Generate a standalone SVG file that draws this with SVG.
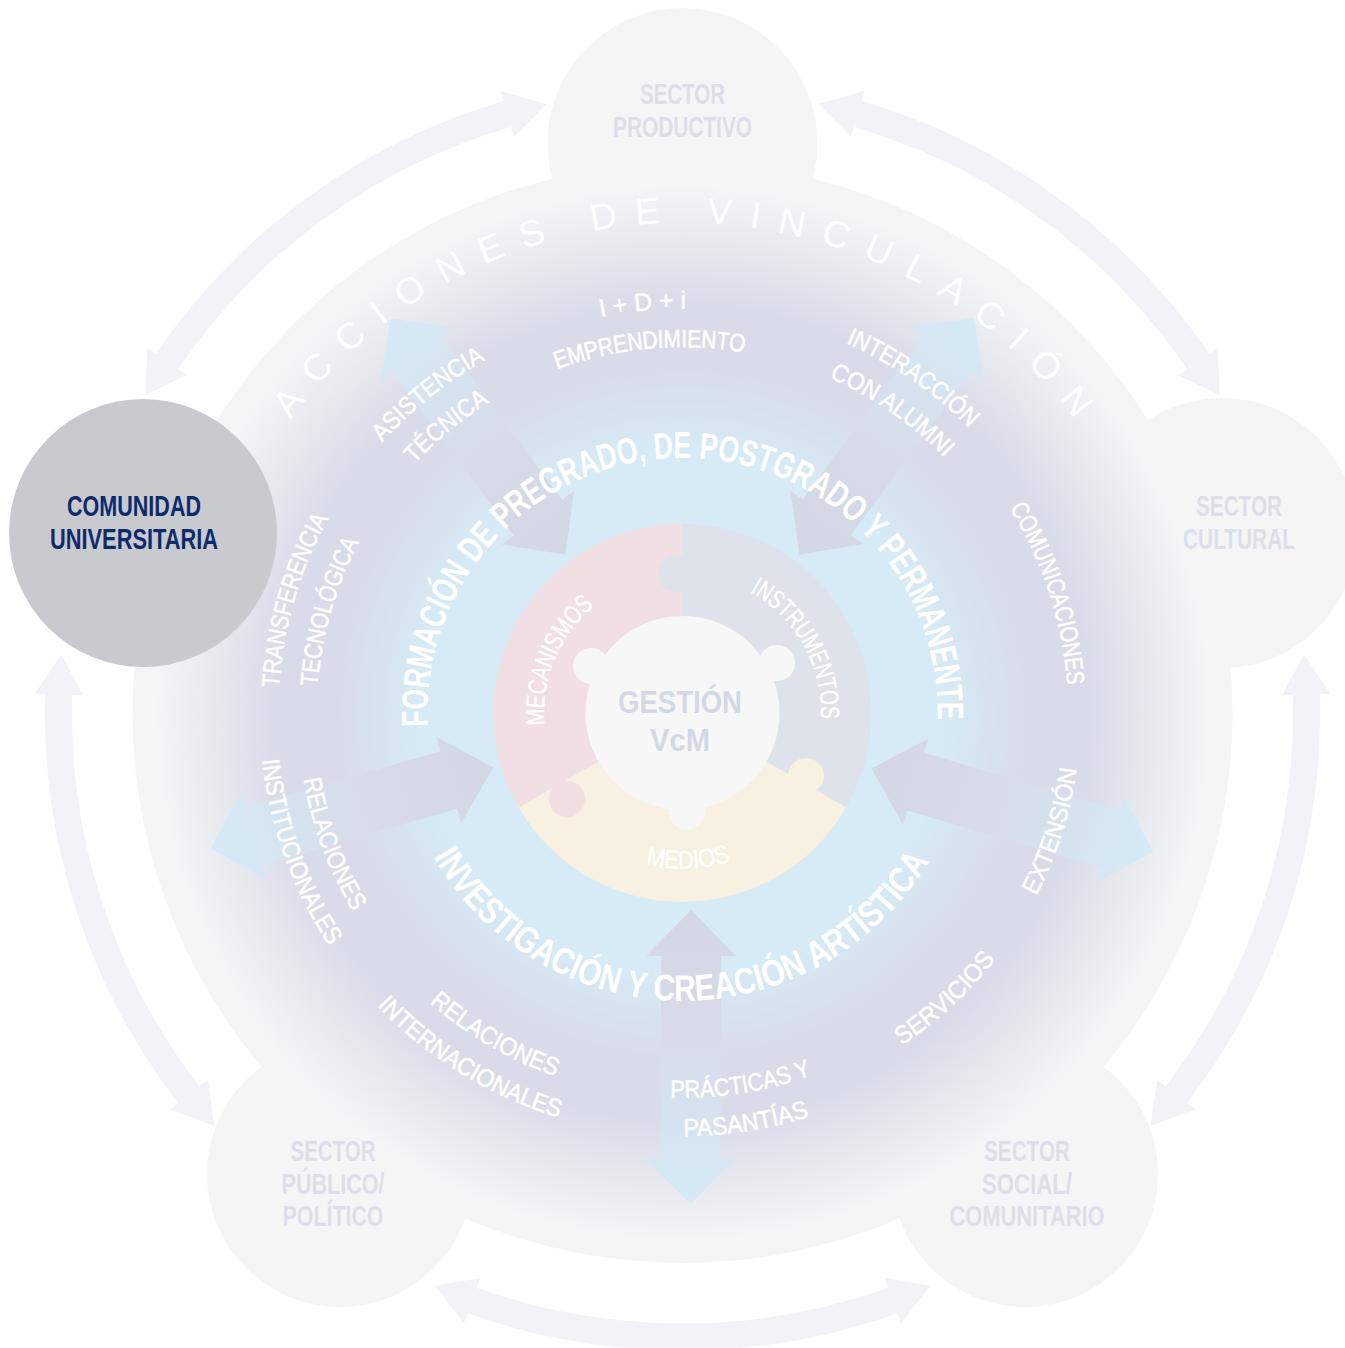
<svg xmlns="http://www.w3.org/2000/svg" width="1345" height="1348" viewBox="0 0 1345 1348">
<defs>
<style>
.f{font-family:'Liberation Sans Narrow','Liberation Sans',Arial,sans-serif}
.lbl{font-size:25px;fill:#ffffff;stroke:#ffffff;stroke-width:0.5}
.ring{font-size:37px;font-weight:bold;fill:#ffffff}
.pz{font-size:26px;fill:#ffffff;stroke:#ffffff;stroke-width:0.4}
.acc{font-size:37px;fill:#ffffff}
.sec{font-size:29px;font-weight:bold;fill:#dcdfea}
.bub{fill:#f5f5f6}
.oarc{fill:none;stroke:#f2f3f6;stroke-width:27}
.ohead{fill:#f2f3f6}
.gv{font-size:32px;font-weight:bold;fill:#d3d8e6}
</style>
<radialGradient id="lavG" cx="682.5" cy="713" r="550" gradientUnits="userSpaceOnUse">
<stop offset="0" stop-color="#d8dce8" stop-opacity="1"/>
<stop offset="0.74" stop-color="#d8dce8" stop-opacity="1"/>
<stop offset="0.96" stop-color="#d8dce8" stop-opacity="0"/>
</radialGradient>
<radialGradient id="blueG" cx="682.5" cy="713" r="345" gradientUnits="userSpaceOnUse">
<stop offset="0" stop-color="#d6ebf6" stop-opacity="1"/>
<stop offset="0.76" stop-color="#d6ebf6" stop-opacity="1"/>
<stop offset="1" stop-color="#d6ebf6" stop-opacity="0"/>
</radialGradient>
<linearGradient id="ag" x1="0" y1="0" x2="1" y2="0">
<stop offset="0" stop-color="#d3d7e4"/>
<stop offset="0.45" stop-color="#d7dce8"/>
<stop offset="1" stop-color="#d5ebf7"/>
</linearGradient>
<polygon id="darrow" points="197,0 243,-45 243,-30 446,-30 446,-45 491,0 446,45 446,30 243,30 243,45" fill="url(#ag)"/>
<g id="oarrow">
<path class="oarc" d="M -210.4,-587.5 A 624 624 0 0 1 210.4,-587.5"/>
<polygon class="ohead" points="-247.8,-572.7 -218.4,-610.1 -202.3,-564.9"/>
<polygon class="ohead" points="247.8,-572.7 218.4,-610.1 202.3,-564.9"/>
</g>
<path id="pto" d="M -397.9,-70.2 A 404 404 0 0 1 397.9,-70.2"/>
<path id="pti" d="M -360.4,-63.6 A 366 366 0 0 1 360.4,-63.6"/>
<path id="ptm" d="M -380.1,-67 A 386 386 0 0 1 380.1,-67"/>
<path id="pbi" d="M -379.1,66.9 A 385 385 0 0 0 379.1,66.9"/>
<path id="pbo" d="M -416.6,73.5 A 423 423 0 0 0 416.6,73.5"/>
<path id="pbm" d="M -392,69.1 A 398 398 0 0 0 392,69.1"/>
<path id="prt" d="M -251.1,44.3 A 255 255 0 1 1 251.1,44.3"/>
<path id="prb" d="M -283.6,50 A 288 288 0 0 0 283.6,50"/>
<path id="pzt" d="M -136.4,-24 A 138.5 138.5 0 0 1 136.4,-24"/>
<path id="pzb" d="M -153.6,27.1 A 156 156 0 0 0 153.6,27.1"/>
<path id="pac" d="M -482.6,-85.1 A 490 490 0 0 1 482.6,-85.1"/>
</defs>

<rect x="0" y="0" width="1345" height="1348" fill="#ffffff"/>

<g id="connectors-outer">
<use href="#oarrow" transform="translate(682.5 713) rotate(-36)"/>
<use href="#oarrow" transform="translate(682.5 713) rotate(36)"/>
<use href="#oarrow" transform="translate(682.5 713) rotate(108)"/>
<use href="#oarrow" transform="translate(682.5 713) rotate(180)"/>
<use href="#oarrow" transform="translate(682.5 713) rotate(252)"/>
</g>

<g id="vinculacion-field">
<circle class="bub" cx="682.5" cy="713" r="550"/>
</g>

<g id="sector-productivo">
<circle class="bub" cx="682.5" cy="143" r="135"/>
<text class="f sec" x="682.5" y="104" text-anchor="middle" textLength="85" lengthAdjust="spacingAndGlyphs">SECTOR</text>
<text class="f sec" x="682.5" y="137" text-anchor="middle" textLength="139" lengthAdjust="spacingAndGlyphs">PRODUCTIVO</text>
</g>
<g id="sector-cultural">
<circle class="bub" cx="1222" cy="533" r="135"/>
<text class="f sec" x="1239" y="516" text-anchor="middle" textLength="86" lengthAdjust="spacingAndGlyphs">SECTOR</text>
<text class="f sec" x="1239" y="549" text-anchor="middle" textLength="112" lengthAdjust="spacingAndGlyphs">CULTURAL</text>
</g>
<g id="sector-social">
<circle class="bub" cx="1025" cy="1174" r="133"/>
<text class="f sec" x="1027" y="1161" text-anchor="middle" textLength="86" lengthAdjust="spacingAndGlyphs">SECTOR</text>
<text class="f sec" x="1027" y="1194" text-anchor="middle" textLength="90" lengthAdjust="spacingAndGlyphs">SOCIAL/</text>
<text class="f sec" x="1027" y="1226" text-anchor="middle" textLength="155" lengthAdjust="spacingAndGlyphs">COMUNITARIO</text>
</g>
<g id="sector-publico">
<circle class="bub" cx="340" cy="1174" r="133"/>
<text class="f sec" x="333" y="1161" text-anchor="middle" textLength="85" lengthAdjust="spacingAndGlyphs">SECTOR</text>
<text class="f sec" x="333" y="1194" text-anchor="middle" textLength="103" lengthAdjust="spacingAndGlyphs">PÚBLICO/</text>
<text class="f sec" x="333" y="1226" text-anchor="middle" textLength="101" lengthAdjust="spacingAndGlyphs">POLÍTICO</text>
</g>

<circle cx="682.5" cy="713" r="550" fill="url(#lavG)"/>
<circle cx="682.5" cy="713" r="345" fill="url(#blueG)"/>

<text class="f acc" transform="translate(682.5 713)" text-anchor="middle"><textPath href="#pac" startOffset="50%" textLength="910" lengthAdjust="spacing">ACCIONES DE VINCULACIÓN</textPath></text>

<g id="connectors-inner">
<use href="#darrow" transform="translate(682.5 713) rotate(-126.5)"/>
<use href="#darrow" transform="translate(682.5 713) rotate(-53.6)"/>
<use href="#darrow" transform="translate(682.5 713) rotate(16.4)"/>
<use href="#darrow" transform="translate(692 713) rotate(90.2)"/>
<use href="#darrow" transform="translate(682.5 713) rotate(164)"/>
</g>

<g id="gestion-vcm">
<path fill="#f2dfe3" d="M682.5,713 L518.8,807.5 A189 189 0 0 1 682.5,524 Z"/>
<path fill="#dee2eb" d="M682.5,713 L682.5,524 A189 189 0 0 1 846.2,807.5 Z"/>
<path fill="#f8f0e0" d="M682.5,713 L846.2,807.5 A189 189 0 0 1 518.8,807.5 Z"/>
<circle cx="676.5" cy="573.5" r="18.5" fill="#dee2eb"/>
<circle cx="567" cy="799" r="18" fill="#f2dfe3"/>
<circle cx="806" cy="776" r="18" fill="#f8f0e0"/>
<circle cx="682.5" cy="713" r="97" fill="#f7f7f8"/>
<circle cx="591" cy="666" r="18" fill="#f7f7f8"/>
<circle cx="777" cy="663" r="18" fill="#f7f7f8"/>
<circle cx="687" cy="812" r="18" fill="#f7f7f8"/>
<text class="f pz" transform="translate(682.5 713) rotate(-67.25)" text-anchor="middle"><textPath href="#pzt" startOffset="50%" textLength="134" lengthAdjust="spacingAndGlyphs">MECANISMOS</textPath></text>
<text class="f pz" transform="translate(682.5 713) rotate(60.7)" text-anchor="middle"><textPath href="#pzt" startOffset="50%" textLength="153" lengthAdjust="spacingAndGlyphs">INSTRUMENTOS</textPath></text>
<text class="f pz" transform="translate(682.5 713) rotate(-2.2)" text-anchor="middle"><textPath href="#pzb" startOffset="50%" textLength="86" lengthAdjust="spacingAndGlyphs">MEDIOS</textPath></text>
<text class="f gv" x="680" y="713" text-anchor="middle" textLength="124" lengthAdjust="spacingAndGlyphs">GESTIÓN</text>
<text class="f gv" x="680" y="751" text-anchor="middle" textLength="60" lengthAdjust="spacingAndGlyphs">VcM</text>
</g>

<g id="ring-texts">
<text class="f ring" transform="translate(682.5 713) rotate(-0.75)" text-anchor="middle"><textPath href="#prt" startOffset="50%" textLength="821" lengthAdjust="spacingAndGlyphs">FORMACIÓN DE PREGRADO, DE POSTGRADO Y PERMANENTE</textPath></text>
<text class="f ring" transform="translate(682.5 713) rotate(0.5)" text-anchor="middle"><textPath href="#prb" startOffset="50%" textLength="598" lengthAdjust="spacingAndGlyphs">INVESTIGACIÓN Y CREACIÓN ARTÍSTICA</textPath></text>
</g>

<g id="acciones-labels">
<text class="f lbl" transform="translate(682.5 713) rotate(-5.6)" text-anchor="middle"><textPath href="#pto" startOffset="50%" textLength="86" lengthAdjust="spacingAndGlyphs">I + D + i</textPath></text>
<text class="f lbl" transform="translate(682.5 713) rotate(-5.2)" text-anchor="middle"><textPath href="#pti" startOffset="50%" textLength="190" lengthAdjust="spacingAndGlyphs">EMPRENDIMIENTO</textPath></text>
<text class="f lbl" transform="translate(682.5 713) rotate(-38.6)" text-anchor="middle"><textPath href="#pto" startOffset="50%" textLength="133" lengthAdjust="spacingAndGlyphs">ASISTENCIA</textPath></text>
<text class="f lbl" transform="translate(682.5 713) rotate(-39.5)" text-anchor="middle"><textPath href="#pti" startOffset="50%" textLength="98" lengthAdjust="spacingAndGlyphs">TÉCNICA</textPath></text>
<text class="f lbl" transform="translate(682.5 713) rotate(34.5)" text-anchor="middle"><textPath href="#pto" startOffset="50%" textLength="151" lengthAdjust="spacingAndGlyphs">INTERACCIÓN</textPath></text>
<text class="f lbl" transform="translate(682.5 713) rotate(34.7)" text-anchor="middle"><textPath href="#pti" startOffset="50%" textLength="141" lengthAdjust="spacingAndGlyphs">CON ALUMNI</textPath></text>
<text class="f lbl" transform="translate(682.5 713) rotate(71.9)" text-anchor="middle"><textPath href="#ptm" startOffset="50%" textLength="188" lengthAdjust="spacingAndGlyphs">COMUNICACIONES</textPath></text>
<text class="f lbl" transform="translate(682.5 713) rotate(-73.8)" text-anchor="middle"><textPath href="#pto" startOffset="50%" textLength="178" lengthAdjust="spacingAndGlyphs">TRANSFERENCIA</textPath></text>
<text class="f lbl" transform="translate(682.5 713) rotate(-74)" text-anchor="middle"><textPath href="#pti" startOffset="50%" textLength="151" lengthAdjust="spacingAndGlyphs">TECNOLÓGICA</textPath></text>
<text class="f lbl" transform="translate(682.5 713) rotate(-72.3)" text-anchor="middle"><textPath href="#pbm" startOffset="50%" textLength="134" lengthAdjust="spacingAndGlyphs">EXTENSIÓN</textPath></text>
<text class="f lbl" transform="translate(682.5 713) rotate(-42.6)" text-anchor="middle"><textPath href="#pbm" startOffset="50%" textLength="128" lengthAdjust="spacingAndGlyphs">SERVICIOS</textPath></text>
<text class="f lbl" transform="translate(682.5 713) rotate(-8.9)" text-anchor="middle"><textPath href="#pbi" startOffset="50%" textLength="144" lengthAdjust="spacingAndGlyphs">PRÁCTICAS Y</textPath></text>
<text class="f lbl" transform="translate(682.5 713) rotate(-8.8)" text-anchor="middle"><textPath href="#pbo" startOffset="50%" textLength="128" lengthAdjust="spacingAndGlyphs">PASANTÍAS</textPath></text>
<text class="f lbl" transform="translate(682.5 713) rotate(30.2)" text-anchor="middle"><textPath href="#pbi" startOffset="50%" textLength="147" lengthAdjust="spacingAndGlyphs">RELACIONES</textPath></text>
<text class="f lbl" transform="translate(682.5 713) rotate(31.6)" text-anchor="middle"><textPath href="#pbo" startOffset="50%" textLength="216" lengthAdjust="spacingAndGlyphs">INTERNACIONALES</textPath></text>
<text class="f lbl" transform="translate(682.5 713) rotate(69.5)" text-anchor="middle"><textPath href="#pbi" startOffset="50%" textLength="142" lengthAdjust="spacingAndGlyphs">RELACIONES</textPath></text>
<text class="f lbl" transform="translate(682.5 713) rotate(70.1)" text-anchor="middle"><textPath href="#pbo" startOffset="50%" textLength="200" lengthAdjust="spacingAndGlyphs">INSTITUCIONALES</textPath></text>
</g>

<g id="comunidad-universitaria">
<circle cx="143" cy="533" r="134" fill="#c9cacf"/>
<text class="f" x="134" y="516" text-anchor="middle" font-size="29" font-weight="bold" fill="#0d2b6b" textLength="134" lengthAdjust="spacingAndGlyphs">COMUNIDAD</text>
<text class="f" x="134" y="549" text-anchor="middle" font-size="29" font-weight="bold" fill="#0d2b6b" textLength="168" lengthAdjust="spacingAndGlyphs">UNIVERSITARIA</text>
</g>
</svg>
